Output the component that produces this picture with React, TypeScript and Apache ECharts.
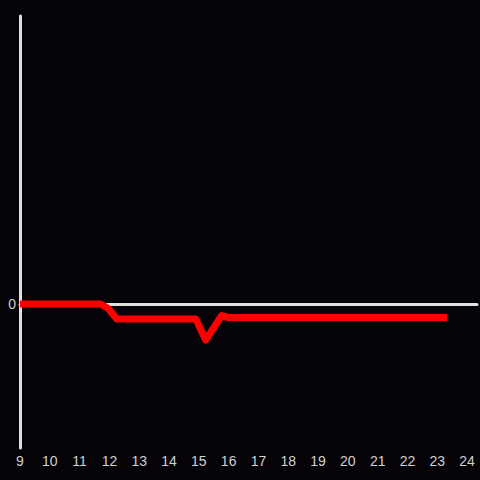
import React, { useEffect, useRef } from "react";
import * as echarts from "echarts";

const xValues = [9, 11.7, 11.95, 12.25, 14.9, 15.23, 15.77, 16.0, 23.33];
const yValues = [0, 0, -0.03, -0.104, -0.104, -0.25, -0.08, -0.094, -0.094];
const yTickLabels = ["0"];

export default function App() {
  const ref = useRef<HTMLDivElement>(null);
  useEffect(() => {
    const chart = echarts.init(ref.current!, null, { renderer: "svg" });
    chart.setOption({
      animation: false,
      backgroundColor: "#050307",
      grid: { left: 20, right: 0, top: 16, bottom: 32, containLabel: false },
      xAxis: {
        type: "value",
        min: 9,
        max: 24.333,
        interval: 1,
        splitLine: { show: false },
        axisTick: { show: false },
        axisLine: { onZero: true, lineStyle: { color: "#e0e0e0", width: 3 } },
        axisLabel: {
          color: "#d0d0d0",
          fontSize: 14,
          fontFamily: "Liberation Sans, Arial, sans-serif",
          margin: 6,
          showMaxLabel: true,
          formatter: (v: number) => (Math.abs(v - Math.round(v)) < 1e-6 ? String(Math.round(v)) : ""),
        },
        position: "bottom",
      },
      yAxis: {
        type: "value",
        min: -1,
        max: 2,
        interval: 1,
        splitLine: { show: false },
        axisTick: { show: false },
        axisLine: { show: true, onZero: false, lineStyle: { color: "#e0e0e0", width: 3 } },
        axisLabel: {
          color: "#d0d0d0",
          fontSize: 14,
          fontFamily: "Liberation Sans, Arial, sans-serif",
          margin: 4,
          formatter: (v: number) => (yTickLabels.includes(String(v)) ? String(v) : ""),
        },
      },
      series: [
        {
          type: "line",
          data: xValues.map((x, i) => [x, yValues[i]]),
          showSymbol: false,
          smooth: false,
          lineStyle: { color: "#ff0000", width: 7, join: "round", cap: "butt" },
          z: 3,
        },
      ],
    });
    return () => chart.dispose();
  }, []);
  return (
    <div
      ref={ref}
      style={{ position: "fixed", left: 0, top: 0, width: 480, height: 480 }}
    />
  );
}
